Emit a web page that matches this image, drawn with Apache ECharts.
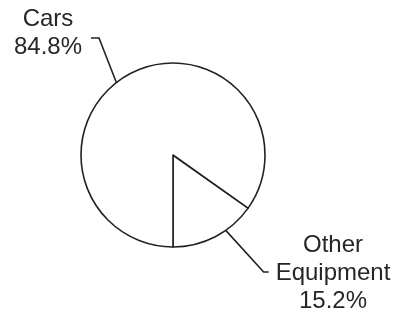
<!DOCTYPE html>
<html>
<head>
<meta charset="utf-8">
<script src="https://cdn.jsdelivr.net/npm/echarts@6/dist/echarts.min.js"></script>
<style>
  html, body { margin: 0; padding: 0; background: #fff; }
  #chart { width: 395px; height: 313px; }
</style>
</head>
<body>
<div id="chart"></div>
<script>
// 数据
var names = ["Other\nEquipment", "Cars"];
var shares = [15.2, 84.8];

// 标签位置（标签中心）和引导线在圆周上的起点角度
var labelPos = [[333, 273], [48, 33]];
var anchorAngle = [305, 128];

var center = [173, 155];
var radius = 92;
var total = shares.reduce(function (a, b) { return a + b; }, 0);

var myChart = echarts.init(document.getElementById("chart"));

var option = {
  animation: false,
  series: [
    {
      type: "pie",
      center: center,
      radius: radius,
      clockwise: true,
      // Other Equipment 从正下方开始逆时针展开
      startAngle: -90 + (shares[0] / total) * 360,
      silent: true,
      itemStyle: {
        color: "#fff",
        borderColor: "#222",
        borderWidth: 1.6
      },
      label: {
        show: true,
        position: "outside",
        formatter: "{b}\n{c}%",
        fontFamily: "Liberation Sans, Arial, sans-serif",
        fontSize: 24,
        lineHeight: 28,
        color: "#262626",
        align: "center"
      },
      labelLine: {
        show: true,
        length: 10,
        length2: 10,
        smooth: false,
        lineStyle: { color: "#222", width: 1.6 }
      },
      labelLayout: function (params) {
        var i = params.dataIndex;
        var p = labelPos[i];
        var w = params.labelRect.width;
        var a = anchorAngle[i] * Math.PI / 180;
        var start = [center[0] + radius * Math.cos(a), center[1] - radius * Math.sin(a)];
        var cy = p[1];
        var pts;
        if (i === 0) {
          var left = p[0] - w / 2;
          pts = [start, [left - 12, cy - 1], [left - 7, cy - 1]];
        } else {
          var right = p[0] + w / 2;
          cy = p[1] + 5;
          pts = [start, [right + 17, cy], [right + 9, cy]];
        }
        return {
          x: p[0],
          y: p[1],
          align: "center",
          verticalAlign: "middle",
          labelLinePoints: pts
        };
      },
      data: names.map(function (n, i) {
        return { name: n, value: shares[i] };
      })
    }
  ]
};

myChart.setOption(option);
</script>
</body>
</html>
